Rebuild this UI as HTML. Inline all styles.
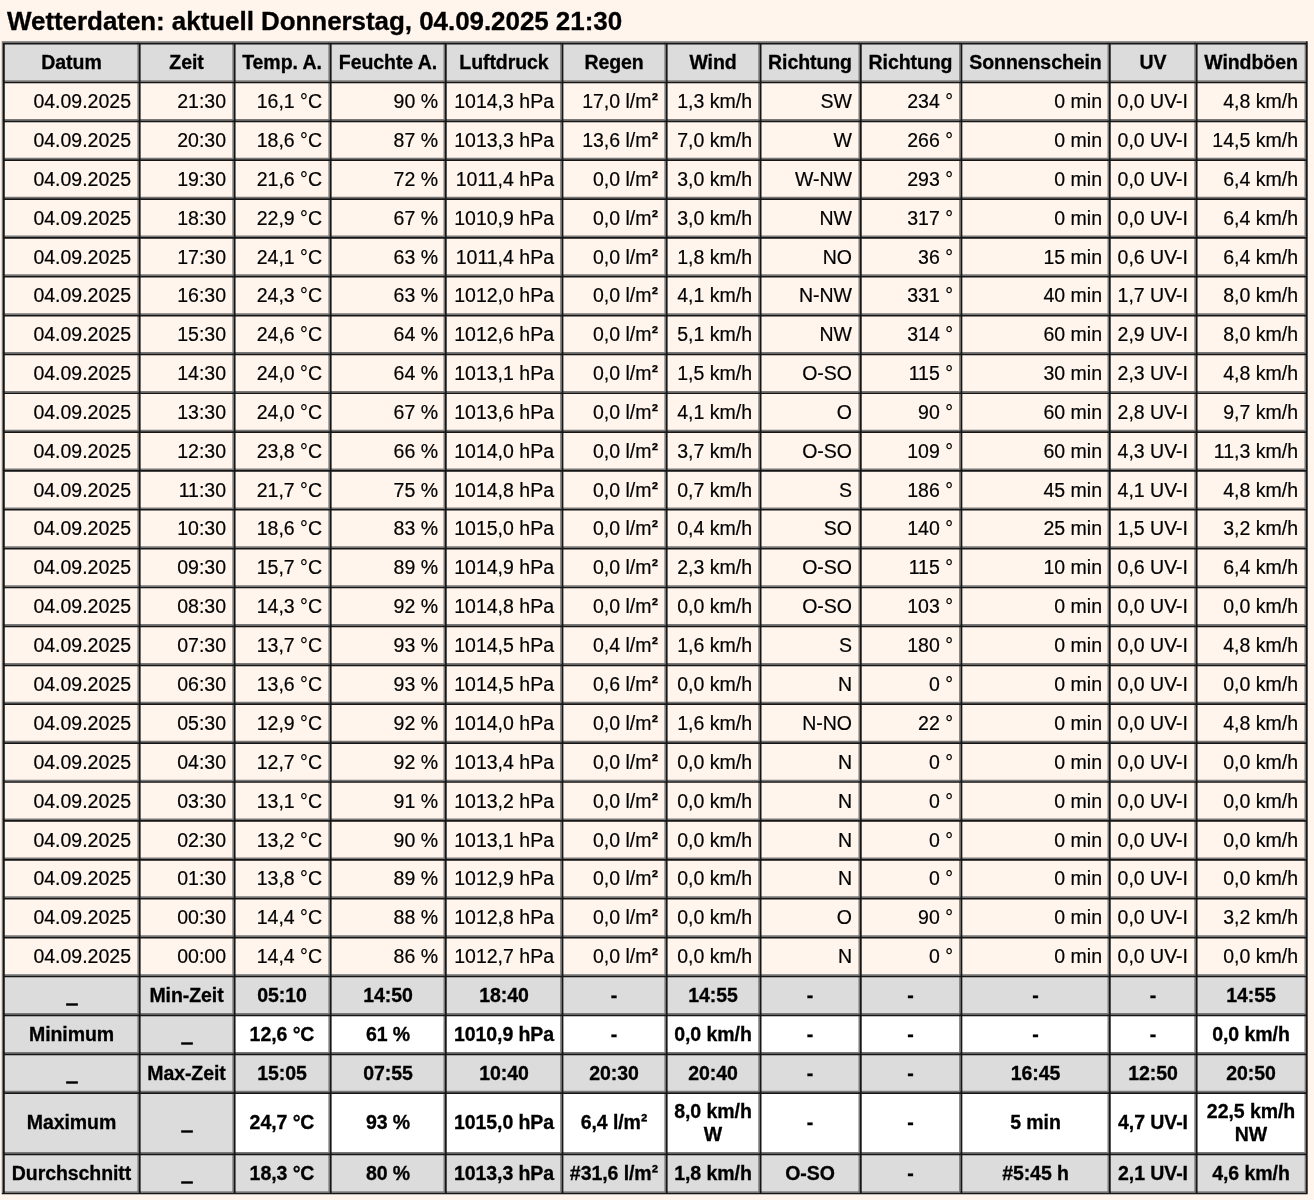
<!DOCTYPE html>
<html lang="de"><head><meta charset="utf-8"><title>Wetterdaten</title>
<style>
html,body{margin:0;padding:0;}
body{width:1314px;height:1200px;overflow:hidden;background:#fff5ec;font-family:"Liberation Sans",sans-serif;color:#000;position:relative;}
h1{position:absolute;left:7px;top:6px;margin:0;font-size:26px;line-height:30px;font-weight:bold;white-space:nowrap;letter-spacing:-0.06px;}
table{position:absolute;left:2px;top:41px;border-collapse:separate;border-spacing:0;table-layout:fixed;
 width:1302px;border:0;font-size:19.5px;line-height:23px;}
td,th{box-sizing:border-box;padding:4px 0 0 4px;border:0;white-space:nowrap;overflow:hidden;vertical-align:middle;}
th{background:#dcdcdc;font-weight:bold;text-align:center;letter-spacing:-0.07px;}
td{text-align:right;padding-right:6px;}
tr.f td{font-weight:bold;text-align:center;padding-right:0;letter-spacing:-0.07px;}
tr.t td{padding-top:2px;line-height:22.6px;}
td.g{background:#dcdcdc;}
td.w{background:#fff;}
.sq{font-weight:bold;font-size:19px;line-height:0;position:relative;top:-1px;display:inline-block;width:6.5px;}
.u{display:inline-block;position:static;vertical-align:-4px;}
td{-webkit-text-stroke:0.2px #000;}
h1,th,tr.f td{-webkit-text-stroke:0.3px #000;}
svg.grid{position:absolute;left:0;top:0;pointer-events:none;}
table,h1{will-change:transform;}
</style></head><body>
<h1>Wetterdaten: aktuell Donnerstag, 04.09.2025 21:30</h1>
<table>
<colgroup><col style="width:135px"><col style="width:95px"><col style="width:96px"><col style="width:116px"><col style="width:116px"><col style="width:104px"><col style="width:94px"><col style="width:100px"><col style="width:101px"><col style="width:149px"><col style="width:86px"><col style="width:110px"></colgroup>
<tr style="height:39px"><th>Datum</th><th>Zeit</th><th>Temp. A.</th><th>Feuchte A.</th><th>Luftdruck</th><th>Regen</th><th>Wind</th><th>Richtung</th><th>Richtung</th><th>Sonnenschein</th><th>UV</th><th>Windböen</th></tr>
<tr style="height:39px"><td>04.09.2025</td><td>21:30</td><td>16,1 °C</td><td>90 %</td><td>1014,3 hPa</td><td>17,0 l/m<span class="sq">²</span></td><td>1,3 km/h</td><td>SW</td><td>234 °</td><td>0 min</td><td>0,0 UV-I</td><td>4,8 km/h</td></tr>
<tr style="height:39px"><td>04.09.2025</td><td>20:30</td><td>18,6 °C</td><td>87 %</td><td>1013,3 hPa</td><td>13,6 l/m<span class="sq">²</span></td><td>7,0 km/h</td><td>W</td><td>266 °</td><td>0 min</td><td>0,0 UV-I</td><td>14,5 km/h</td></tr>
<tr style="height:39px"><td>04.09.2025</td><td>19:30</td><td>21,6 °C</td><td>72 %</td><td>1011,4 hPa</td><td>0,0 l/m<span class="sq">²</span></td><td>3,0 km/h</td><td>W-NW</td><td>293 °</td><td>0 min</td><td>0,0 UV-I</td><td>6,4 km/h</td></tr>
<tr style="height:39px"><td>04.09.2025</td><td>18:30</td><td>22,9 °C</td><td>67 %</td><td>1010,9 hPa</td><td>0,0 l/m<span class="sq">²</span></td><td>3,0 km/h</td><td>NW</td><td>317 °</td><td>0 min</td><td>0,0 UV-I</td><td>6,4 km/h</td></tr>
<tr style="height:38px"><td>04.09.2025</td><td>17:30</td><td>24,1 °C</td><td>63 %</td><td>1011,4 hPa</td><td>0,0 l/m<span class="sq">²</span></td><td>1,8 km/h</td><td>NO</td><td>36 °</td><td>15 min</td><td>0,6 UV-I</td><td>6,4 km/h</td></tr>
<tr style="height:39px"><td>04.09.2025</td><td>16:30</td><td>24,3 °C</td><td>63 %</td><td>1012,0 hPa</td><td>0,0 l/m<span class="sq">²</span></td><td>4,1 km/h</td><td>N-NW</td><td>331 °</td><td>40 min</td><td>1,7 UV-I</td><td>8,0 km/h</td></tr>
<tr style="height:39px"><td>04.09.2025</td><td>15:30</td><td>24,6 °C</td><td>64 %</td><td>1012,6 hPa</td><td>0,0 l/m<span class="sq">²</span></td><td>5,1 km/h</td><td>NW</td><td>314 °</td><td>60 min</td><td>2,9 UV-I</td><td>8,0 km/h</td></tr>
<tr style="height:39px"><td>04.09.2025</td><td>14:30</td><td>24,0 °C</td><td>64 %</td><td>1013,1 hPa</td><td>0,0 l/m<span class="sq">²</span></td><td>1,5 km/h</td><td>O-SO</td><td>115 °</td><td>30 min</td><td>2,3 UV-I</td><td>4,8 km/h</td></tr>
<tr style="height:39px"><td>04.09.2025</td><td>13:30</td><td>24,0 °C</td><td>67 %</td><td>1013,6 hPa</td><td>0,0 l/m<span class="sq">²</span></td><td>4,1 km/h</td><td>O</td><td>90 °</td><td>60 min</td><td>2,8 UV-I</td><td>9,7 km/h</td></tr>
<tr style="height:39px"><td>04.09.2025</td><td>12:30</td><td>23,8 °C</td><td>66 %</td><td>1014,0 hPa</td><td>0,0 l/m<span class="sq">²</span></td><td>3,7 km/h</td><td>O-SO</td><td>109 °</td><td>60 min</td><td>4,3 UV-I</td><td>11,3 km/h</td></tr>
<tr style="height:38px"><td>04.09.2025</td><td>11:30</td><td>21,7 °C</td><td>75 %</td><td>1014,8 hPa</td><td>0,0 l/m<span class="sq">²</span></td><td>0,7 km/h</td><td>S</td><td>186 °</td><td>45 min</td><td>4,1 UV-I</td><td>4,8 km/h</td></tr>
<tr style="height:39px"><td>04.09.2025</td><td>10:30</td><td>18,6 °C</td><td>83 %</td><td>1015,0 hPa</td><td>0,0 l/m<span class="sq">²</span></td><td>0,4 km/h</td><td>SO</td><td>140 °</td><td>25 min</td><td>1,5 UV-I</td><td>3,2 km/h</td></tr>
<tr style="height:39px"><td>04.09.2025</td><td>09:30</td><td>15,7 °C</td><td>89 %</td><td>1014,9 hPa</td><td>0,0 l/m<span class="sq">²</span></td><td>2,3 km/h</td><td>O-SO</td><td>115 °</td><td>10 min</td><td>0,6 UV-I</td><td>6,4 km/h</td></tr>
<tr style="height:39px"><td>04.09.2025</td><td>08:30</td><td>14,3 °C</td><td>92 %</td><td>1014,8 hPa</td><td>0,0 l/m<span class="sq">²</span></td><td>0,0 km/h</td><td>O-SO</td><td>103 °</td><td>0 min</td><td>0,0 UV-I</td><td>0,0 km/h</td></tr>
<tr style="height:39px"><td>04.09.2025</td><td>07:30</td><td>13,7 °C</td><td>93 %</td><td>1014,5 hPa</td><td>0,4 l/m<span class="sq">²</span></td><td>1,6 km/h</td><td>S</td><td>180 °</td><td>0 min</td><td>0,0 UV-I</td><td>4,8 km/h</td></tr>
<tr style="height:39px"><td>04.09.2025</td><td>06:30</td><td>13,6 °C</td><td>93 %</td><td>1014,5 hPa</td><td>0,6 l/m<span class="sq">²</span></td><td>0,0 km/h</td><td>N</td><td>0 °</td><td>0 min</td><td>0,0 UV-I</td><td>0,0 km/h</td></tr>
<tr style="height:39px"><td>04.09.2025</td><td>05:30</td><td>12,9 °C</td><td>92 %</td><td>1014,0 hPa</td><td>0,0 l/m<span class="sq">²</span></td><td>1,6 km/h</td><td>N-NO</td><td>22 °</td><td>0 min</td><td>0,0 UV-I</td><td>4,8 km/h</td></tr>
<tr style="height:39px"><td>04.09.2025</td><td>04:30</td><td>12,7 °C</td><td>92 %</td><td>1013,4 hPa</td><td>0,0 l/m<span class="sq">²</span></td><td>0,0 km/h</td><td>N</td><td>0 °</td><td>0 min</td><td>0,0 UV-I</td><td>0,0 km/h</td></tr>
<tr style="height:39px"><td>04.09.2025</td><td>03:30</td><td>13,1 °C</td><td>91 %</td><td>1013,2 hPa</td><td>0,0 l/m<span class="sq">²</span></td><td>0,0 km/h</td><td>N</td><td>0 °</td><td>0 min</td><td>0,0 UV-I</td><td>0,0 km/h</td></tr>
<tr style="height:38px"><td>04.09.2025</td><td>02:30</td><td>13,2 °C</td><td>90 %</td><td>1013,1 hPa</td><td>0,0 l/m<span class="sq">²</span></td><td>0,0 km/h</td><td>N</td><td>0 °</td><td>0 min</td><td>0,0 UV-I</td><td>0,0 km/h</td></tr>
<tr style="height:39px"><td>04.09.2025</td><td>01:30</td><td>13,8 °C</td><td>89 %</td><td>1012,9 hPa</td><td>0,0 l/m<span class="sq">²</span></td><td>0,0 km/h</td><td>N</td><td>0 °</td><td>0 min</td><td>0,0 UV-I</td><td>0,0 km/h</td></tr>
<tr style="height:39px"><td>04.09.2025</td><td>00:30</td><td>14,4 °C</td><td>88 %</td><td>1012,8 hPa</td><td>0,0 l/m<span class="sq">²</span></td><td>0,0 km/h</td><td>O</td><td>90 °</td><td>0 min</td><td>0,0 UV-I</td><td>3,2 km/h</td></tr>
<tr style="height:39px"><td>04.09.2025</td><td>00:00</td><td>14,4 °C</td><td>86 %</td><td>1012,7 hPa</td><td>0,0 l/m<span class="sq">²</span></td><td>0,0 km/h</td><td>N</td><td>0 °</td><td>0 min</td><td>0,0 UV-I</td><td>0,0 km/h</td></tr>
<tr class="f" style="height:39px"><td class="g"><svg class="u" width="12" height="3" viewBox="0 0 12 3" role="img" aria-label="_"><rect x="0.15" y="0.3" width="11.7" height="2.4" fill="#000"/></svg></td><td class="g">Min-Zeit</td><td class="g">05:10</td><td class="g">14:50</td><td class="g">18:40</td><td class="g">-</td><td class="g">14:55</td><td class="g">-</td><td class="g">-</td><td class="g">-</td><td class="g">-</td><td class="g">14:55</td></tr>
<tr class="f" style="height:39px"><td class="g">Minimum</td><td class="g"><svg class="u" width="12" height="3" viewBox="0 0 12 3" role="img" aria-label="_"><rect x="0.15" y="0.3" width="11.7" height="2.4" fill="#000"/></svg></td><td class="w">12,6 °C</td><td class="w">61 %</td><td class="w">1010,9 hPa</td><td class="w">-</td><td class="w">0,0 km/h</td><td class="w">-</td><td class="w">-</td><td class="w">-</td><td class="w">-</td><td class="w">0,0 km/h</td></tr>
<tr class="f" style="height:39px"><td class="g"><svg class="u" width="12" height="3" viewBox="0 0 12 3" role="img" aria-label="_"><rect x="0.15" y="0.3" width="11.7" height="2.4" fill="#000"/></svg></td><td class="g">Max-Zeit</td><td class="g">15:05</td><td class="g">07:55</td><td class="g">10:40</td><td class="g">20:30</td><td class="g">20:40</td><td class="g">-</td><td class="g">-</td><td class="g">16:45</td><td class="g">12:50</td><td class="g">20:50</td></tr>
<tr class="f t" style="height:61px"><td class="g">Maximum</td><td class="g"><svg class="u" width="12" height="3" viewBox="0 0 12 3" role="img" aria-label="_"><rect x="0.15" y="0.3" width="11.7" height="2.4" fill="#000"/></svg></td><td class="w">24,7 °C</td><td class="w">93 %</td><td class="w">1015,0 hPa</td><td class="w">6,4 l/m<span class="sq">²</span></td><td class="w">8,0 km/h<br>W</td><td class="w">-</td><td class="w">-</td><td class="w">5 min</td><td class="w">4,7 UV-I</td><td class="w">22,5 km/h<br>NW</td></tr>
<tr class="f" style="height:39px"><td class="g">Durchschnitt</td><td class="g"><svg class="u" width="12" height="3" viewBox="0 0 12 3" role="img" aria-label="_"><rect x="0.15" y="0.3" width="11.7" height="2.4" fill="#000"/></svg></td><td class="g">18,3 °C</td><td class="g">80 %</td><td class="g">1013,3 hPa</td><td class="g">#31,6 l/m<span class="sq">²</span></td><td class="g">1,8 km/h</td><td class="g">O-SO</td><td class="g">-</td><td class="g">#5:45 h</td><td class="g">2,1 UV-I</td><td class="g">4,6 km/h</td></tr>
</table>
<svg class="grid" width="1314" height="1200" viewBox="0 0 1314 1200"><defs><filter id="b" x="-1%" y="-1%" width="102%" height="102%"><feGaussianBlur stdDeviation="0.45"/></filter></defs><g filter="url(#b)"><path fill="#787878" d="M1.75 41.3h1304.15v1.5h-1304.15zM1.75 80.15h1304.15v1.5h-1304.15zM1.75 118.99h1304.15v1.5h-1304.15zM1.75 157.83h1304.15v1.5h-1304.15zM1.75 196.68h1304.15v1.5h-1304.15zM1.75 235.52h1304.15v1.5h-1304.15zM1.75 274.36h1304.15v1.5h-1304.15zM1.75 313.2h1304.15v1.5h-1304.15zM1.75 352.04h1304.15v1.5h-1304.15zM1.75 390.89h1304.15v1.5h-1304.15zM1.75 429.73h1304.15v1.5h-1304.15zM1.75 468.57h1304.15v1.5h-1304.15zM1.75 507.41h1304.15v1.5h-1304.15zM1.75 546.25h1304.15v1.5h-1304.15zM1.75 585.15h1304.15v1.5h-1304.15zM1.75 624.05h1304.15v1.5h-1304.15zM1.75 662.95h1304.15v1.5h-1304.15zM1.75 701.85h1304.15v1.5h-1304.15zM1.75 740.75h1304.15v1.5h-1304.15zM1.75 779.65h1304.15v1.5h-1304.15zM1.75 818.55h1304.15v1.5h-1304.15zM1.75 857.45h1304.15v1.5h-1304.15zM1.75 896.35h1304.15v1.5h-1304.15zM1.75 935.25h1304.15v1.5h-1304.15zM1.75 974.15h1304.15v1.5h-1304.15zM1.75 1013.1h1304.15v1.5h-1304.15zM1.75 1052.05h1304.15v1.5h-1304.15zM1.75 1090.75h1304.15v1.5h-1304.15zM1.75 1152.1h1304.15v1.5h-1304.15zM1.75 1191.15h1304.15v1.5h-1304.15zM1.75 41.3h1.2v1151.35h-1.2zM137.4 41.3h1.4v1151.35h-1.4zM232.35 41.3h1.4v1151.35h-1.4zM328.4 41.3h1.4v1151.35h-1.4zM443.5 41.3h1.4v1151.35h-1.4zM560.2 41.3h1.4v1151.35h-1.4zM664.4 41.3h1.4v1151.35h-1.4zM758.3 41.3h1.4v1151.35h-1.4zM858.5 41.3h1.4v1151.35h-1.4zM959.15 41.3h1.4v1151.35h-1.4zM1107.5 41.3h1.4v1151.35h-1.4zM1194.35 41.3h1.4v1151.35h-1.4zM1304.5 41.3h1.4v1151.35h-1.4z"/><path fill="#141414" d="M2.95 42.8h1302.95v1.7h-1302.95zM2.95 81.65h1302.95v1.7h-1302.95zM2.95 120.49h1302.95v1.7h-1302.95zM2.95 159.33h1302.95v1.7h-1302.95zM2.95 198.18h1302.95v1.7h-1302.95zM2.95 237.02h1302.95v1.7h-1302.95zM2.95 275.86h1302.95v1.7h-1302.95zM2.95 314.7h1302.95v1.7h-1302.95zM2.95 353.54h1302.95v1.7h-1302.95zM2.95 392.39h1302.95v1.7h-1302.95zM2.95 431.23h1302.95v1.7h-1302.95zM2.95 470.07h1302.95v1.7h-1302.95zM2.95 508.91h1302.95v1.7h-1302.95zM2.95 547.75h1302.95v1.7h-1302.95zM2.95 586.65h1302.95v1.7h-1302.95zM2.95 625.55h1302.95v1.7h-1302.95zM2.95 664.45h1302.95v1.7h-1302.95zM2.95 703.35h1302.95v1.7h-1302.95zM2.95 742.25h1302.95v1.7h-1302.95zM2.95 781.15h1302.95v1.7h-1302.95zM2.95 820.05h1302.95v1.7h-1302.95zM2.95 858.95h1302.95v1.7h-1302.95zM2.95 897.85h1302.95v1.7h-1302.95zM2.95 936.75h1302.95v1.7h-1302.95zM2.95 975.65h1302.95v1.7h-1302.95zM2.95 1014.6h1302.95v1.7h-1302.95zM2.95 1053.55h1302.95v1.7h-1302.95zM2.95 1092.25h1302.95v1.7h-1302.95zM2.95 1153.6h1302.95v1.7h-1302.95zM1.75 1192.65h1305.95v1.7h-1305.95zM2.95 42.8h1.8v1149.85h-1.8zM138.8 42.8h1.8v1149.85h-1.8zM233.75 42.8h1.8v1149.85h-1.8zM329.8 42.8h1.8v1149.85h-1.8zM444.9 42.8h1.8v1149.85h-1.8zM561.6 42.8h1.8v1149.85h-1.8zM665.8 42.8h1.8v1149.85h-1.8zM759.7 42.8h1.8v1149.85h-1.8zM859.9 42.8h1.8v1149.85h-1.8zM960.55 42.8h1.8v1149.85h-1.8zM1108.9 42.8h1.8v1149.85h-1.8zM1195.75 42.8h1.8v1149.85h-1.8zM1305.9 41.3h1.8v1153.05h-1.8z"/></g></svg>
</body></html>
